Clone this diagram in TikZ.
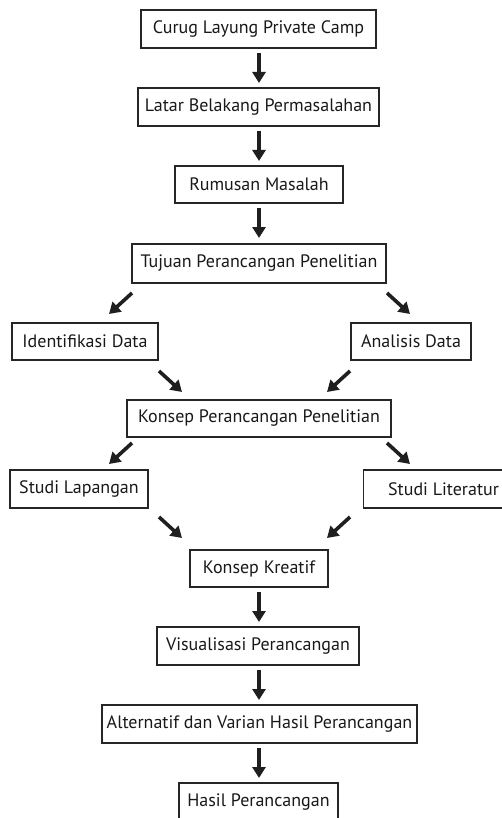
\documentclass[tikz,border=0pt]{standalone}
\usepackage{fontspec}
\setmainfont{PT Sans}
\usetikzlibrary{arrows.meta}
\begin{document}
\begin{tikzpicture}[x=1pt,y=-1pt,
  box/.style={draw=black!85,line width=1.1pt,inner sep=0pt,font=\fontsize{18}{20}\selectfont,text=black!90},
  arr/.style={line width=3.6pt,draw=black!88,-{Triangle[width=13pt,length=11pt]}}]
\useasboundingbox[fill=white] (0,0) rectangle (502,818);
\node[box,minimum width=235pt,minimum height=38pt] (n1) at (258.5,29) {Curug Layung Private Camp};
\node[box,minimum width=241pt,minimum height=38pt] (n2) at (258.5,107) {Latar Belakang Permasalahan};
\node[box,minimum width=168pt,minimum height=37pt] (n3) at (259,184.5) {Rumusan Masalah};
\node[box,minimum width=254pt,minimum height=39pt] (n4) at (259,263.5) {Tujuan Perancangan Penelitian};
\node[box,minimum width=146pt,minimum height=37pt] (n5) at (85,341.5) {Identifikasi Data};
\node[box,minimum width=120pt,minimum height=37pt] (n6) at (411,341.5) {Analisis Data};
\node[box,minimum width=264pt,minimum height=37pt] (n7) at (259,418.5) {Konsep Perancangan Penelitian};
\node[box,minimum width=138pt,minimum height=38pt] (n8) at (79,489) {Studi Lapangan};
\node[box,minimum width=146pt,minimum height=38pt,anchor=west] (n9) at (363,489) {\hspace*{14pt}Studi Literatur\hfill};
\node[box,minimum width=138pt,minimum height=37pt] (n10) at (259,568.5) {Konsep Kreatif};
\node[box,minimum width=202pt,minimum height=38pt] (n11) at (258,646) {Visualisasi Perancangan};
\node[box,minimum width=315pt,minimum height=38pt] (n12) at (259.5,724) {Alternatif dan Varian Hasil Perancangan};
\node[box,minimum width=159pt,minimum height=38pt] (n13) at (258.5,802) {Hasil Perancangan};
% arrow ends
\coordinate (a1s) at (259,53);  \coordinate (a1e) at (259,83);
\coordinate (a2s) at (259,131); \coordinate (a2e) at (259,161);
\coordinate (a3s) at (259,208); \coordinate (a3e) at (259,238);
\coordinate (d1s) at (132,293); \coordinate (d1e) at (109,314);
\coordinate (d2s) at (387,293); \coordinate (d2e) at (410,314);
\coordinate (d3s) at (159,371); \coordinate (d3e) at (182,392);
\coordinate (d4s) at (350,371); \coordinate (d4e) at (327,392);
\coordinate (d5s) at (132,443); \coordinate (d5e) at (109,464);
\coordinate (d6s) at (387,443); \coordinate (d6e) at (410,464);
\coordinate (d7s) at (159,517); \coordinate (d7e) at (182,538);
\coordinate (d8s) at (350,517); \coordinate (d8e) at (327,538);
\coordinate (a9s) at (259,592); \coordinate (a9e) at (259,622);
\coordinate (a10s) at (259,670); \coordinate (a10e) at (259,700);
\coordinate (a11s) at (259,748); \coordinate (a11e) at (259,778);
\foreach \s/\e in {a1s/a1e,a2s/a2e,a3s/a3e,d1s/d1e,d2s/d2e,d3s/d3e,d4s/d4e,d5s/d5e,d6s/d6e,d7s/d7e,d8s/d8e,a9s/a9e,a10s/a10e,a11s/a11e}
  \draw[arr] (\s) -- (\e);
\end{tikzpicture}
\end{document}
